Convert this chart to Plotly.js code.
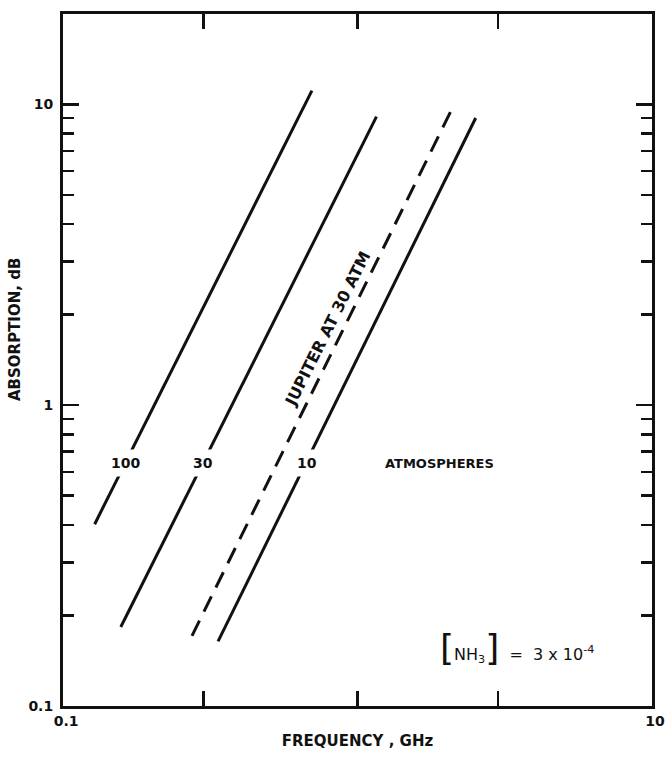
<!DOCTYPE html>
<html><head><meta charset="utf-8">
<script src="https://cdn.plot.ly/plotly-3.0.1.min.js"></script>
<style>html,body{margin:0;padding:0;background:#fff}</style>
</head><body><div id="chart" style="width:666px;height:766px"></div>
<script>
// Data
const pressureLabels = ['100', '30', '10'];
const freq100 = [0.128, 0.70];
const abs100 = [0.402, 11.1];
const freq30 = [0.157, 1.16];
const abs30 = [0.183, 9.1];
const freq10 = [0.336, 2.52];
const abs10 = [0.164, 9.0];
const freqJupiter = [0.274, 2.11];
const absJupiter = [0.171, 9.8];

const xTickVals = [0.1, 10];
const xTickText = ['0.1', '10'];
const xMinorVals = [0.3, 1, 3];
const yTickVals = [0.1, 1, 10];
const yTickText = ['0.1', '1', '10'];
const yMinorVals = [0.2, 0.3, 0.4, 0.5, 0.6, 0.7, 0.8, 0.9, 2, 3, 4, 5, 6, 7, 8, 9];

const FONT = 'DejaVu Sans, Liberation Sans, sans-serif';
const INK = '#111';

function f(size, weight) { return {family: FONT, size: size, color: INK, weight: weight || 'bold'}; }

const lineStyle = {color: INK, width: 3};
const traces = [
  {x: freq100, y: abs100, mode: 'lines', line: lineStyle, name: '100 atm', hoverinfo: 'x+y'},
  {x: freq30, y: abs30, mode: 'lines', line: lineStyle, name: '30 atm', hoverinfo: 'x+y'},
  {x: freq10, y: abs10, mode: 'lines', line: lineStyle, name: '10 atm', hoverinfo: 'x+y'},
  {x: freqJupiter, y: absJupiter, mode: 'lines', line: {color: INK, width: 3, dash: '17px,10px'}, name: 'Jupiter at 30 atm', hoverinfo: 'x+y'}
];

function lbl(text, px, py, extra) {
  return Object.assign({
    text: text, xref: 'paper', yref: 'paper',
    x: (px - 63) / 589, y: (706 - py) / 692,
    showarrow: false, font: f(14),
    xanchor: 'center', yanchor: 'middle'
  }, extra || {});
}

const annotations = [
  lbl(pressureLabels[0], 125, 463, {bgcolor: '#fff', borderpad: 5}),
  lbl(pressureLabels[1], 203, 463, {bgcolor: '#fff', borderpad: 5}),
  lbl(pressureLabels[2], 307, 463, {bgcolor: '#fff', borderpad: 5}),
  lbl('ATMOSPHERES', 383, 463, {xanchor: 'left', font: f(13)}),
  lbl('JUPITER AT 30 ATM', 327, 329, {textangle: -63.4, font: f(16)}),
  lbl('<span style="font-size:36px">[</span>NH<sub>3</sub><span style="font-size:36px">]</span>  =  3 x 10<sup>-4</sup>', 438, 647, {xanchor: 'left', font: f(16, 'normal')}),
  lbl('ABSORPTION, dB', 15, 330, {textangle: -90, font: f(15)})
];

const layout = {
  width: 666, height: 766,
  margin: {l: 63, r: 14, t: 14, b: 60},
  paper_bgcolor: '#fff', plot_bgcolor: '#fff',
  showlegend: false,
  font: f(14, 'normal'),
  xaxis: {
    type: 'log', range: [-1.0003, 1.0003],
    tickmode: 'array', tickvals: xTickVals, ticktext: xTickText,
    ticks: 'inside', ticklen: 15, tickwidth: 2.5, tickcolor: INK,
    minor: {tickmode: 'array', tickvals: xMinorVals, ticks: 'inside', ticklen: 15, tickwidth: 2.5, tickcolor: INK, showgrid: false},
    showline: true, linewidth: 3, linecolor: INK, mirror: 'allticks',
    showgrid: false, zeroline: false,
    tickfont: f(14),
    ticklabelshift: 3, ticklabeloverflow: 'allow',
    title: {text: 'FREQUENCY , GHz', font: f(15), standoff: 8}
  },
  yaxis: {
    type: 'log', range: [-1, 1.3],
    tickmode: 'array', tickvals: yTickVals, ticktext: yTickText,
    ticks: 'inside', ticklen: 16, tickwidth: 2.5, tickcolor: INK,
    minor: {tickmode: 'array', tickvals: yMinorVals, ticks: 'inside', ticklen: 11, tickwidth: 2.5, tickcolor: INK, showgrid: false},
    showline: true, linewidth: 3, linecolor: INK, mirror: 'allticks',
    showgrid: false, zeroline: false,
    tickfont: f(14), ticklabelstandoff: 4
  },
  annotations: annotations
};

Plotly.newPlot('chart', traces, layout, {displayModeBar: false, staticPlot: true});
</script></body></html>
